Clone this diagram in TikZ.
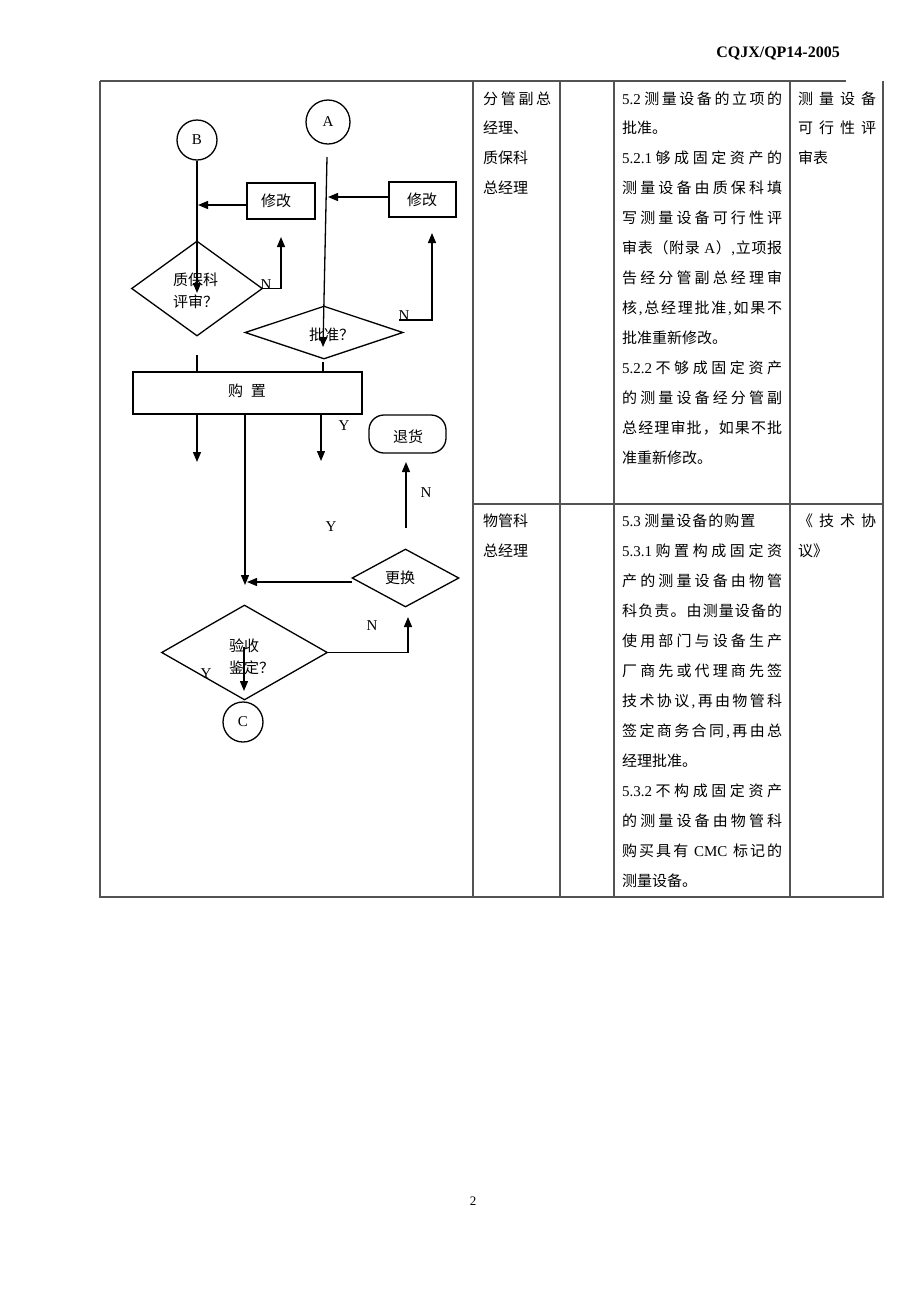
\documentclass[tikz,border=0pt]{standalone}
\usepackage{fontspec}
\setmainfont{Noto Sans CJK SC}
\newfontfamily\latf{Liberation Serif}
\usetikzlibrary{arrows.meta,shapes.geometric}
\newcommand\tn[1]{{\latf #1}}
\def\sprd#1{\sprdB#1\relax}
\def\sprdB#1{#1\sprdC}
\def\sprdC#1{\ifx\relax#1\else\hskip0pt plus1fil #1\expandafter\sprdC\fi}
\def\lsp#1{\lspB#1\relax}
\def\lspB#1{#1\lspC}
\def\lspC#1{\ifx\relax#1\else\hskip1pt #1\expandafter\lspC\fi}
\newcommand\jl[2]{\makebox[#1pt][s]{#2}}
\begin{document}
\begin{tikzpicture}[x=1pt,y=-1pt,
  fl/.style={line width=1.3pt,black},
  arr/.style={fl,-{Triangle[length=10pt,width=8pt]}},
  tab/.style={line width=1.2pt,gray!65!black},
  txt/.style={anchor=west,inner sep=0pt,font=\fontsize{15}{18}\selectfont},
  ctxt/.style={inner sep=0pt,font=\fontsize{15}{18}\selectfont},
  lab/.style={inner sep=0pt,font=\fontsize{15}{18}\selectfont\latf},
  circ/.style={draw,circle,fl,inner sep=0pt,font=\fontsize{15}{18}\selectfont\latf},
  boxn/.style={draw,rectangle,fl,inner sep=0pt},
  dia/.style={draw,diamond,fl,inner sep=0pt}]
\useasboundingbox (0,0) rectangle (920,1302);
\fill[white] (0,0) rectangle (920,1302);

% header and page number
\node[anchor=east,inner sep=0pt,font=\fontsize{16}{18}\selectfont\latf\bfseries] (hdr) at (840,53) {CQJX/QP14-2005};
\node[inner sep=0pt,font=\fontsize{13}{15}\selectfont\latf] (pg) at (473,1201) {2};

% table
\draw[tab] (100,81) -- (846,81);
\draw[tab] (100,81) -- (100,897) -- (883,897) -- (883,81);
\draw[tab] (473,81) -- (473,897);
\draw[tab] (560,81) -- (560,897);
\draw[tab] (614,81) -- (614,897);
\draw[tab] (790,81) -- (790,897);
\draw[tab] (473,504) -- (883,504);

% column 2
\node[txt] (c2a) at (483,99) {\jl{68}{\sprd{分管副总}}};
\node[txt] (c2b) at (483,128) {经理、};
\node[txt] (c2c) at (483,158) {质保科};
\node[txt] (c2d) at (483,188) {总经理};
\node[txt] (c2e) at (483,521) {物管科};
\node[txt] (c2f) at (483,551) {总经理};

% column 4 row 1
\node[txt] (r1l1) at (622,99) {\jl{160}{\tn{5.2} \sprd{测量设备的立项的}}};
\node[txt] (r1l2) at (622,128) {批准。};
\node[txt] (r1l3) at (622,158) {\jl{160}{\tn{5.2.1} \sprd{够成固定资产的}}};
\node[txt] (r1l4) at (622,188) {\jl{160}{\sprd{测量设备由质保科填}}};
\node[txt] (r1l5) at (622,218) {\jl{160}{\sprd{写测量设备可行性评}}};
\node[txt] (r1l6) at (622,248) {\jl{160}{\sprd{审表（附录{\tn{\ A}}）{\tn{,}}立项报}}};
\node[txt] (r1l7) at (622,278) {\jl{160}{\sprd{告经分管副总经理审}}};
\node[txt] (r1l8) at (622,308) {\jl{160}{\sprd{核{\tn{,}}总经理批准{\tn{,}}如果不}}};
\node[txt] (r1l9) at (622,338) {批准重新修改。};
\node[txt] (r1l10) at (622,368) {\jl{160}{\tn{5.2.2} \sprd{不够成固定资产}}};
\node[txt] (r1l11) at (622,398) {\jl{160}{\sprd{的测量设备经分管副}}};
\node[txt] (r1l12) at (622,428) {\jl{160}{\sprd{总经理审批，如果不批}}};
\node[txt] (r1l13) at (622,458) {准重新修改。};

% column 4 row 2
\node[txt] (r2l1) at (622,521) {\tn{5.3} \lsp{测量设备的购置}};
\node[txt] (r2l2) at (622,551) {\jl{160}{\tn{5.3.1} \sprd{购置构成固定资}}};
\node[txt] (r2l3) at (622,581) {\jl{160}{\sprd{产的测量设备由物管}}};
\node[txt] (r2l4) at (622,611) {\jl{160}{\sprd{科负责。由测量设备的}}};
\node[txt] (r2l5) at (622,641) {\jl{160}{\sprd{使用部门与设备生产}}};
\node[txt] (r2l6) at (622,671) {\jl{160}{\sprd{厂商先或代理商先签}}};
\node[txt] (r2l7) at (622,701) {\jl{160}{\sprd{技术协议{\tn{,}}再由物管科}}};
\node[txt] (r2l8) at (622,731) {\jl{160}{\sprd{签定商务合同{\tn{,}}再由总}}};
\node[txt] (r2l9) at (622,761) {经理批准。};
\node[txt] (r2l10) at (622,791) {\jl{160}{\tn{5.3.2} \sprd{不构成固定资产}}};
\node[txt] (r2l11) at (622,821) {\jl{160}{\sprd{的测量设备由物管科}}};
\node[txt] (r2l12) at (622,851) {\jl{160}{\sprd{购买具有{\tn{\ CMC\ }}标记的}}};
\node[txt] (r2l13) at (622,881) {测量设备。};

% column 5
\node[txt] (c5a) at (798,99) {\jl{78}{\sprd{测量设备}}};
\node[txt] (c5b) at (798,128) {\jl{78}{\sprd{可行性评}}};
\node[txt] (c5c) at (798,158) {审表};
\node[txt] (c5d) at (798,521) {\jl{78}{\sprd{《技术协}}};
\node[txt] (c5e) at (798,551) {议》};

% flowchart nodes
\node[circ,minimum size=40pt] (B) at (197,140) {B};
\node[circ,minimum size=44pt] (A) at (328,122) {A};
\node[circ,minimum size=40pt] (C) at (243,722) {C};
\node[boxn,minimum width=68pt,minimum height=36pt] (xg1) at (281,201) {};
\node[ctxt] (xg1t) at (276,201) {修改};
\node[boxn,minimum width=67pt,minimum height=35pt] (xg2) at (422.5,199.5) {};
\node[ctxt] (xg2t) at (422,200) {修改};
\node[dia,minimum width=131pt,minimum height=95pt] (Q) at (197,288.5) {};
\node[txt] (Qt1) at (173,280) {质保科};
\node[txt] (Qt2) at (173,302) {评审？};
\node[dia,minimum width=158pt,minimum height=53pt] (P) at (324,332.5) {};
\node[txt] (Pt) at (309,335) {批准？};
\node[boxn,minimum width=229pt,minimum height=42pt] (buy) at (247.5,393) {};
\node[ctxt] (buyt) at (247,391) {购\hspace{8pt}置};
\node[draw,fl,rounded corners=15pt,minimum width=77pt,minimum height=38pt,inner sep=0pt] (th) at (407.5,434) {};
\node[ctxt] (tht) at (408,437) {退货};
\node[dia,minimum width=107pt,minimum height=58pt] (H) at (405.5,578) {};
\node[ctxt] (Ht) at (400,578) {更换};
\node[dia,minimum width=166pt,minimum height=95pt] (V) at (244.5,652.5) {};
\node[txt] (Vt1) at (229,646) {验收};
\node[txt] (Vt2) at (229,668) {鉴定？};

% labels
\node[lab] (lN1) at (266,285) {N};
\node[lab] (lN2) at (404,316) {N};
\node[lab] (lY1) at (344,426) {Y};
\node[lab] (lN3) at (426,493) {N};
\node[lab] (lY2) at (331,527) {Y};
\node[lab] (lN4) at (372,626) {N};
\node[lab] (lY3) at (206,674) {Y};

% coordinates
\coordinate (b1) at (197,293);
\coordinate (m1s) at (247,205);
\coordinate (m1) at (198,205);
\coordinate (n1) at (281,237);
\coordinate (a0) at (327,157);
\coordinate (a1) at (323,347);
\coordinate (m2s) at (389,197);
\coordinate (m2) at (328,197);
\coordinate (p0) at (399,320);
\coordinate (p1) at (432,320);
\coordinate (n2) at (432,233);
\coordinate (q0) at (197,355);
\coordinate (q1) at (197,372);
\coordinate (r0) at (323,362);
\coordinate (r1) at (323,372);
\coordinate (d1s) at (197,414);
\coordinate (d1) at (197,462);
\coordinate (d2s) at (321,414);
\coordinate (d2) at (321,461);
\coordinate (d3s) at (245,414);
\coordinate (d3) at (245,585);
\coordinate (u0) at (406,528);
\coordinate (u1) at (406,462);
\coordinate (h0) at (352,582);
\coordinate (h1) at (247,582);
\coordinate (v1) at (408,617);
\coordinate (w0) at (244,647);
\coordinate (w1) at (244,691);

% connectors
\draw[arr] (B) -- (b1);
\draw[arr] (m1s) -- (m1);
\draw[arr] (Q.east) -| (n1);
\draw[arr] (a0) -- (a1);
\draw[arr] (m2s) -- (m2);
\draw[arr] (p0) -- (p1) -- (n2);
\draw[fl] (q0) -- (q1);
\draw[fl] (r0) -- (r1);
\draw[arr] (d1s) -- (d1);
\draw[arr] (d2s) -- (d2);
\draw[arr] (d3s) -- (d3);
\draw[arr] (u0) -- (u1);
\draw[arr] (h0) -- (h1);
\draw[arr] (V.east) -| (v1);
\draw[arr] (w0) -- (w1);
\end{tikzpicture}
\end{document}
